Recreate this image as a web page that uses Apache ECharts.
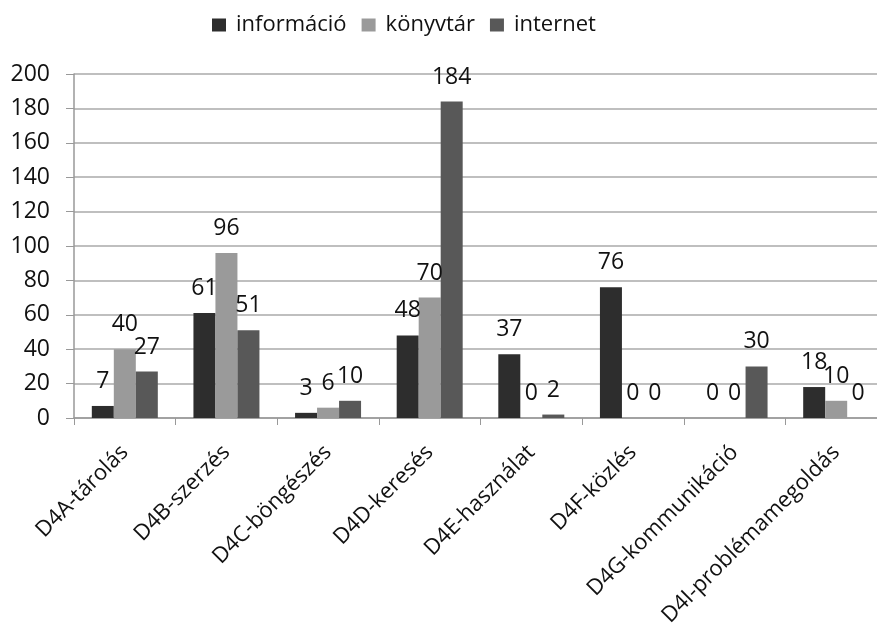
<!DOCTYPE html>
<html>
<head>
<meta charset="utf-8">
<script src="https://cdn.jsdelivr.net/npm/echarts@6/dist/echarts.min.js"></script>
<style>
html,body{margin:0;padding:0;background:#fff;}
#chart{width:877px;height:625px;}
</style>
</head>
<body>
<div id="chart"></div>
<script>
const categories = ['D4A-tárolás','D4B-szerzés','D4C-böngészés','D4D-keresés','D4E-használat','D4F-közlés','D4G-kommunikáció','D4I-problémamegoldás'];
const seriesNames = ['információ','könyvtár','internet'];
const informacio = [7, 61, 3, 48, 37, 76, 0, 18];
const konyvtar = [40, 96, 6, 70, 0, 0, 0, 10];
const internet = [27, 51, 10, 184, 2, 0, 30, 0];
const yTicks = {min: 0, max: 200, interval: 20};
const colors = ['#2d2d2d', '#9a9a9a', '#585858'];

const font = 'Open Sans';
const chart = echarts.init(document.getElementById('chart'));
const mk = (name, data, color) => ({
  name, type: 'bar', data, barWidth: 22, barGap: '0%',
  itemStyle: {color},
  label: {show: true, position: 'top', distance: 13, color: '#111', fontFamily: font, fontSize: 23}
});
chart.setOption({
  animation: false,
  textStyle: {fontFamily: font},
  legend: {
    left: 207, top: 9, itemWidth: 14, itemHeight: 13, itemGap: 15,
    icon: 'rect',
    textStyle: {fontFamily: font, fontSize: 22, color: '#111', padding: [0,0,0,5]},
    data: seriesNames
  },
  grid: {left: 74, right: -10, top: 74, bottom: 207, containLabel: false, outerBoundsMode: 'none'},
  xAxis: {
    type: 'category', data: categories,
    axisLine: {lineStyle: {color: '#999', width: 1.5}},
    axisTick: {show: true, length: 7, lineStyle: {color: '#999'}},
    axisLabel: {rotate: 45, margin: 31, color: '#111', fontFamily: font, fontSize: 22, interval: 0}
  },
  yAxis: {
    type: 'value', min: yTicks.min, max: yTicks.max, interval: yTicks.interval,
    axisLine: {show: true, lineStyle: {color: '#999', width: 1.5}},
    axisTick: {show: true, length: 8, lineStyle: {color: '#999'}},
    splitLine: {lineStyle: {color: '#aaa', width: 1.5}},
    axisLabel: {margin: 24, color: '#111', fontFamily: font, fontSize: 23}
  },
  series: [mk(seriesNames[0], informacio, colors[0]), mk(seriesNames[1], konyvtar, colors[1]), mk(seriesNames[2], internet, colors[2])]
});
</script>
</body>
</html>
